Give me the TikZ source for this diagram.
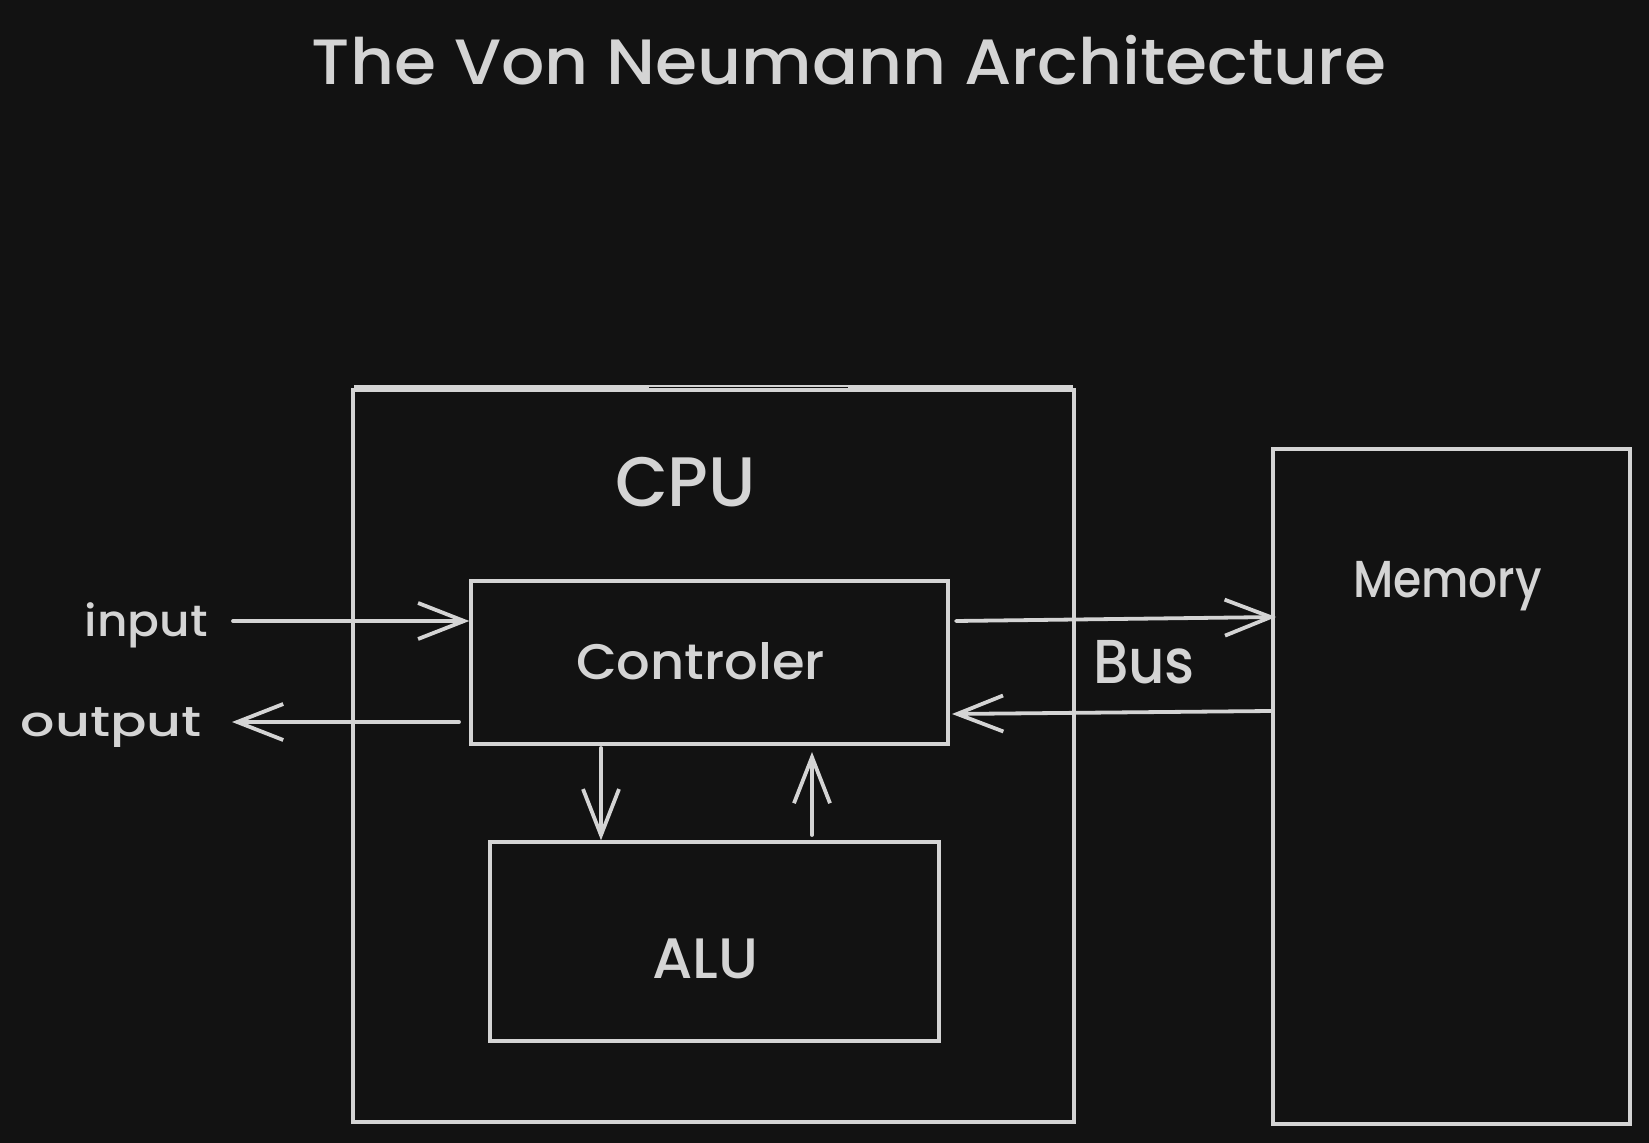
\documentclass[tikz,border=0pt]{standalone}
\usepackage{fontspec}
\setmainfont{Poppins Medium}
\usetikzlibrary{arrows.meta,fit}
\definecolor{bg}{HTML}{121212}
\definecolor{ink}{HTML}{D4D4D4}
\newcommand\fitw[2]{\resizebox{#1}{\height}{#2}}
\begin{document}
\begin{tikzpicture}[x=0.5pt,y=-0.5pt,
  box/.style={draw=ink,line width=1.7pt,inner sep=0pt,rectangle},
  conn/.style={draw=ink,line width=1.9pt,line cap=round,-{Straight Barb[length=23pt,width=18pt,line width=1.9pt]}},
  lbl/.style={text=ink,inner sep=0pt,anchor=base}]
\fill[bg] (0,0) rectangle (1649,1143);
\useasboundingbox (0,0) rectangle (1649,1143);

% title
\node[lbl] (title) at (849,85) {\fitw{537pt}{\fontsize{32pt}{38pt}\selectfont The Von Neumann Architecture}};

% boxes
\node[box, fit={(353,390) (1074,1122)}] (cpu) {};
\draw[ink,line width=1.7pt] (354,386.5) -- (1073,386.5);
\draw[bg,line width=0.5pt] (649,388) -- (848,388);
\node[box, fit={(471,581) (948,744)}] (ctrl) {};
\node[box, fit={(490,842) (939,1041)}] (alu) {};
\node[box, fit={(1273,449) (1630,1124)}] (mem) {};

% labels
\node[lbl] (cpulbl) at (685.5,507) {\fitw{70.5pt}{\fontsize{35pt}{40pt}\selectfont CPU}};
\node[lbl] (ctrllbl) at (700.5,680) {\fitw{124.5pt}{\fontsize{25pt}{30pt}\selectfont Controler}};
\node[lbl] (alulbl) at (705,978) {\fitw{53pt}{\fontsize{28.5pt}{34pt}\selectfont ALU}};
\node[lbl] (memlbl) at (1447.5,598) {\fitw{94.5pt}{\fontsize{26pt}{32pt}\selectfont Memory}};
\node[lbl] (buslbl) at (1144,684) {\fitw{51pt}{\fontsize{31pt}{38pt}\selectfont Bus}};
\node[lbl] (inlbl) at (146.5,637) {\fitw{61.5pt}{\fontsize{22pt}{26pt}\selectfont input}};
\node[lbl] (outlbl) at (111.5,737) {\fitw{90.5pt}{\fontsize{21pt}{25pt}\selectfont output}};

% connector end points
\coordinate (inS) at (233,621);
\coordinate (outS) at (459,722);
\coordinate (outE) at (232,722);
\coordinate (busAS) at (956,621);
\coordinate (busAE) at (1276,617);
\coordinate (busBS) at (1271,711);
\coordinate (busBE) at (952,714);
\coordinate (dnS) at (601,748);
\coordinate (upS) at (812,835);

% connectors
\draw[conn] (inS) -- (ctrl.west |- inS);
\draw[conn] (outS) -- (outE);
\draw[conn] (busAS) -- (busAE);
\draw[conn] (busBS) -- (busBE);
\draw[conn] (dnS) -- (dnS |- alu.north);
\draw[conn] (upS) -- (812,752);
\end{tikzpicture}
\end{document}
